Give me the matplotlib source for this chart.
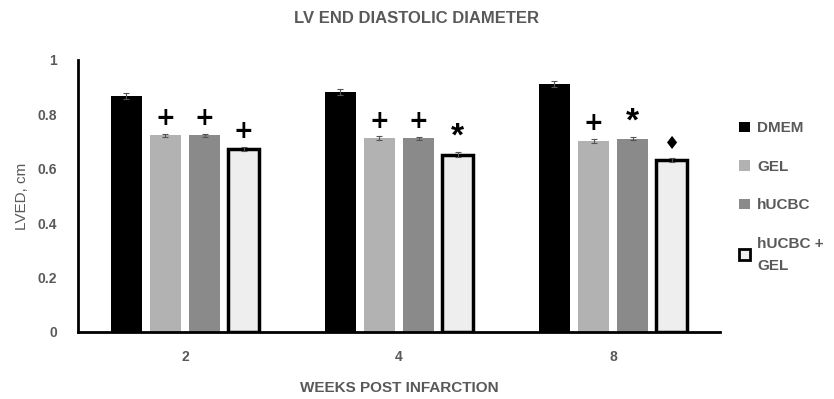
import matplotlib.pyplot as plt
import numpy as np
from matplotlib.patches import Patch

plt.rcParams['font.family'] = ['Liberation Sans', 'DejaVu Sans']

weeks = ['2', '4', '8']
groups = ['DMEM', 'GEL', 'hUCBC', 'hUCBC +\nGEL']
lved = {
    'DMEM': [0.868, 0.882, 0.912],
    'GEL': [0.722, 0.712, 0.703],
    'hUCBC': [0.722, 0.712, 0.710],
    'hUCBC +\nGEL': [0.673, 0.652, 0.632],
}
errs = {
    'DMEM': [0.012, 0.010, 0.010],
    'GEL': [0.007, 0.007, 0.007],
    'hUCBC': [0.007, 0.006, 0.005],
    'hUCBC +\nGEL': [0.008, 0.008, 0.007],
}
marks = {
    'DMEM': ['', '', ''],
    'GEL': ['+', '+', '+'],
    'hUCBC': ['+', '+', '*'],
    'hUCBC +\nGEL': ['+', '*', '\u2666'],
}
fills = ['#000000', '#b2b2b2', '#8a8a8a', '#eeeeee']
edges = ['#000000', '#b2b2b2', '#8a8a8a', '#000000']
lws = [0, 0, 0, 2.5]
gray = '#595959'

fig = plt.figure(figsize=(8.34, 3.99), dpi=100)
ax = fig.add_axes([0.0935, 0.168, 0.77, 0.682])

x = np.arange(len(weeks))
w = 0.145
step = 0.183
for i, g in enumerate(groups):
    pos = x + (i - 1.5) * step
    ax.bar(pos, lved[g], w, color=fills[i], edgecolor=edges[i], linewidth=lws[i], zorder=2)
    ax.errorbar(pos, lved[g], yerr=errs[g], fmt='none', ecolor='#555555',
                elinewidth=0.8, capsize=2, capthick=0.8, zorder=3)
    for p, v, e, m in zip(pos, lved[g], errs[g], marks[g]):
        if not m:
            continue
        if m == '*':
            ax.text(p, v + e + 0.0, m, ha='center', va='bottom', fontsize=24,
                    fontweight='bold', color='black')
        elif m == '+':
            ax.text(p, v + e + 0.012, m, ha='center', va='bottom', fontsize=17,
                    fontweight='bold', color='black', family=['DejaVu Sans'])
        else:
            ax.text(p, v + e + 0.02, m, ha='center', va='bottom', fontsize=13,
                    color='black', family=['DejaVu Sans'])

ax.set_xlim(-0.5, 2.5)
ax.set_ylim(0, 1)
ax.set_xticks(x)
ax.set_xticklabels(weeks)
ax.set_yticks([0, 0.2, 0.4, 0.6, 0.8, 1])
ax.set_yticklabels(['0', '0.2', '0.4', '0.6', '0.8', '1'])
ax.tick_params(length=0, colors=gray, labelsize=10)
ax.tick_params(axis='y', pad=15)
ax.tick_params(axis='x', pad=13)
for lbl in ax.get_xticklabels() + ax.get_yticklabels():
    lbl.set_fontweight('bold')
for s in ['top', 'right']:
    ax.spines[s].set_visible(False)
for s in ['left', 'bottom']:
    ax.spines[s].set_linewidth(2)
    ax.spines[s].set_color('black')

ax.set_ylabel('LVED, cm', color=gray, fontsize=11, labelpad=6)
ax.set_xlabel('WEEKS POST INFARCTION', color=gray, fontsize=11, fontweight='bold', labelpad=12)
fig.suptitle('LV END DIASTOLIC DIAMETER', color=gray, fontsize=12, fontweight='bold', y=0.972)

handles = [Patch(facecolor=fills[i], edgecolor=edges[i], linewidth=lws[i] * 0.8) for i in range(4)]
leg = fig.legend(handles, groups, loc='upper left', bbox_to_anchor=(0.87, 0.73),
                 frameon=False, handlelength=0.7, handleheight=0.7, handletextpad=0.45,
                 labelspacing=1.6, prop={'weight': 'bold', 'size': 11})
for t in leg.get_texts():
    t.set_color(gray)
    t.set_linespacing(1.7)

fig.savefig('out.png', dpi=100)
